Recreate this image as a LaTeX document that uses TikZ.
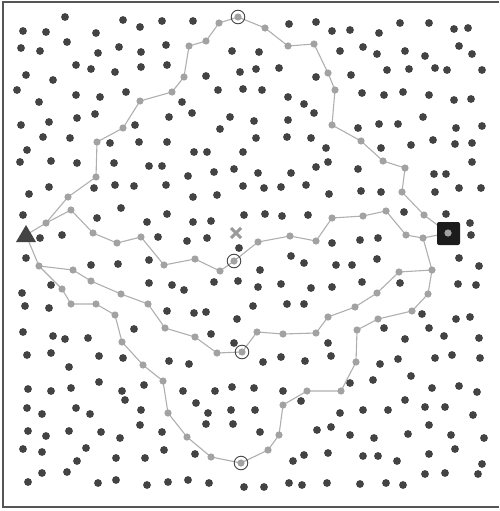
\documentclass[tikz,border=0pt]{standalone}
\definecolor{dotc}{HTML}{434343}
\definecolor{grc}{HTML}{A2A2A2}
\definecolor{edgec}{HTML}{AFAFAF}
\definecolor{framec}{HTML}{555555}
\definecolor{sqc}{HTML}{1C1C1C}
\definecolor{xc}{HTML}{9A9A9A}
\begin{document}
\begin{tikzpicture}[x=1pt,y=-1pt,
  edge/.style={draw=edgec,line width=1.1pt},
  gdot/.style={fill=grc},
  ddot/.style={fill=dotc},
  ring/.style={draw=dotc,line width=0.9pt}]
\useasboundingbox (0,0) rectangle (499,511);
\draw[framec,line width=1.4pt] (499,2) -- (3,2) -- (3,507) -- (499,507);
% key nodes
\coordinate (T) at (26,235);
\coordinate (S) at (448,233);
\coordinate (a1) at (46,223);
% top path
\coordinate (t1) at (68,197); \coordinate (t2) at (96,177); \coordinate (t3) at (97,142);
\coordinate (t4) at (123,128); \coordinate (t5) at (140,101); \coordinate (t6) at (172,92);
\coordinate (t7) at (184,77); \coordinate (t8) at (189,46); \coordinate (t9) at (206,41);
\coordinate (t10) at (219,23); \coordinate (c1) at (238,17); \coordinate (t11) at (265,28);
\coordinate (t12) at (288,46); \coordinate (t13) at (314,44); \coordinate (t14) at (328,73);
\coordinate (t15) at (335,90); \coordinate (t16) at (332,125); \coordinate (t17) at (361,141);
\coordinate (t18) at (383,161); \coordinate (t19) at (405,168); \coordinate (t20) at (402,192);
\coordinate (t21) at (424,215);
% middle path
\coordinate (m1) at (71,210); \coordinate (m2) at (93,233); \coordinate (m3) at (117,243);
\coordinate (m4) at (141,237); \coordinate (m5) at (164,265); \coordinate (m6) at (195,259);
\coordinate (m7) at (220,271); \coordinate (c2) at (234,261); \coordinate (m8) at (258,242);
\coordinate (m9) at (290,236); \coordinate (m10) at (316,241); \coordinate (m11) at (332,218);
\coordinate (m12) at (363,216); \coordinate (m13) at (386,211); \coordinate (m14) at (406,235);
\coordinate (j1) at (423,238);
% lower paths
\coordinate (b0) at (39,266);
\coordinate (l1) at (73,270); \coordinate (l2) at (91,281); \coordinate (l3) at (121,294);
\coordinate (l4) at (148,304); \coordinate (l5) at (165,328); \coordinate (l6) at (195,337);
\coordinate (l7) at (217,353); \coordinate (c3) at (242,352); \coordinate (l8) at (257,332);
\coordinate (l9) at (283,334); \coordinate (l10) at (316,333); \coordinate (l11) at (328,317);
\coordinate (l12) at (355,307); \coordinate (l13) at (377,293); \coordinate (l14) at (399,272);
\coordinate (j2) at (432,270);
\coordinate (q1) at (62,289); \coordinate (q2) at (71,304); \coordinate (q3) at (96,304);
\coordinate (q4) at (115,315); \coordinate (q5) at (122,342); \coordinate (q6) at (143,365);
\coordinate (q7) at (163,381); \coordinate (q8) at (168,413); \coordinate (q9) at (187,437);
\coordinate (q10) at (211,457); \coordinate (c4) at (241,463); \coordinate (q11) at (268,450);
\coordinate (q12) at (279,435); \coordinate (q13) at (283,405); \coordinate (q14) at (307,391);
\coordinate (q15) at (341,391); \coordinate (q16) at (356,362); \coordinate (q17) at (357,330);
\coordinate (q18) at (378,319); \coordinate (q19) at (412,311); \coordinate (q20) at (428,294);
% dark scattered dots
\foreach \x/\y in {65/17,123/20,162/21,23/31,46/32,96/33,140/27,67/42,21/48,40/51,98/53,119/47,141/52,166/45,
76/65,91/69,115/72,141/67,167/65,26/75,53/80,17/90,76/95,100/97,126/92,39/102,77/118,95/114,21/125,49/122,
135/125,169/117,43/137,70/138,110/143,139/142,167/142,27/150,20/162,51/161,77/163,114/163,149/166,162/166,
193/21,289/24,316/22,332/31,232/51,259/52,240/72,256/69,279/68,206/76,316/77,218/90,243/89,262/90,288/97,
182/102,304/104,192/113,230/117,254/121,288/120,314/113,220/129,256/138,287/137,311/138,326/148,194/152,
207/152,243/152,316/167,328/162,
350/30,379/33,400/23,429/23,454/29,468/28,340/51,363/47,377/54,405/51,425/56,459/46,472/54,351/75,387/70,
409/69,435/68,447/70,482/70,362/93,384/95,403/92,429/95,454/100,471/99,423/117,358/128,379/124,398/124,
456/128,482/126,381/148,411/145,433/140,455/144,472/143,358/169,472/162,
49/187,29/194,94/188,115/185,134/186,166/185,23/215,121/208,97/218,147/222,167/214,40/238,62/235,158/237,
26/258,91/265,118/264,149/260,51/285,149/283,22/293,25/306,49/308,167/311,23/332,53/336,65/339,88/338,134/329,
188/176,214/172,234/169,258/173,291/173,243/186,264/188,281/187,306/185,329/194,193/197,217/195,244/215,
265/214,282/216,308/215,193/222,211/221,187/241,207/238,239/248,332/243,291/256,304/263,260/270,172/285,
184/290,214/282,238/281,258/287,281/284,311/288,332/287,194/313,206/312,237/319,253/306,287/304,304/304,
211/334,234/343,328/343,
434/174,446/174,361/191,381/192,435/192,459/188,481/188,404/212,446/214,470/223,360/240,378/238,471/235,
336/265,352/265,377/259,459/258,479/266,362/282,400/283,458/284,476/285,422/314,456/319,470/317,384/328,
429/328,444/336,405/339,479/338,
27/355,51/353,99/356,123/358,69/367,169/361,28/389,51/391,71/388,99/382,122/391,125/400,144/385,27/408,
42/414,76/408,90/414,141/410,28/431,46/436,69/431,101/432,120/438,140/425,162/432,23/449,42/452,86/448,
77/461,116/458,145/458,164/450,42/473,67/472,28/482,98/483,116/480,147/485,168/482,
189/364,263/362,281/357,305/361,331/356,183/391,215/391,232/387,254/388,283/391,301/401,196/403,208/413,
231/410,255/410,206/424,233/424,260/432,317/430,331/427,195/454,293/461,304/455,328/453,188/480,209/483,
244/487,264/487,289/483,302/485,327/483,
380/364,398/359,435/358,452/355,480/358,350/383,373/380,411/376,432/388,459/386,477/392,405/400,340/413,
363/410,388/410,425/407,445/407,473/415,350/435,374/438,408/434,429/425,451/435,484/438,455/449,363/456,
378/456,397/461,429/454,482/464,360/484,386/483,403/485,425/474,445/473,478/474}
  \fill[ddot] (\x,\y) circle (3.9pt);
% connectors
\draw[edge] (T) -- (a1) -- (t1) -- (t2) -- (t3) -- (t4) -- (t5) -- (t6) -- (t7) -- (t8) -- (t9) -- (t10)
  -- (c1) -- (t11) -- (t12) -- (t13) -- (t14) -- (t15) -- (t16) -- (t17) -- (t18) -- (t19) -- (t20) -- (t21) -- (S);
\draw[edge] (a1) -- (m1) -- (m2) -- (m3) -- (m4) -- (m5) -- (m6) -- (m7) -- (c2) -- (m8) -- (m9) -- (m10)
  -- (m11) -- (m12) -- (m13) -- (m14) -- (j1) -- (S);
\draw[edge] (T) -- (b0) -- (l1) -- (l2) -- (l3) -- (l4) -- (l5) -- (l6) -- (l7) -- (c3) -- (l8) -- (l9)
  -- (l10) -- (l11) -- (l12) -- (l13) -- (l14) -- (j2) -- (j1);
\draw[edge] (b0) -- (q1) -- (q2) -- (q3) -- (q4) -- (q5) -- (q6) -- (q7) -- (q8) -- (q9) -- (q10) -- (c4)
  -- (q11) -- (q12) -- (q13) -- (q14) -- (q15) -- (q16) -- (q17) -- (q18) -- (q19) -- (q20) -- (j2);
% gray path dots
\foreach \n in {a1,t1,t2,t3,t4,t5,t6,t7,t8,t9,t10,c1,t11,t12,t13,t14,t15,t16,t17,t18,t19,t20,t21,
  m1,m2,m3,m4,m5,m6,m7,c2,m8,m9,m10,m11,m12,m13,m14,j1,
  b0,l1,l2,l3,l4,l5,l6,l7,c3,l8,l9,l10,l11,l12,l13,l14,j2,
  q1,q2,q3,q4,q5,q6,q7,q8,q9,q10,c4,q11,q12,q13,q14,q15,q16,q17,q18,q19,q20}
  \fill[gdot] (\n) circle (3.6pt);
% waypoint rings
\foreach \n in {c1,c2,c3,c4} \draw[ring] (\n) circle (6.8pt);
% start triangle
\fill[dotc] (16,242) -- (26,225) -- (36,242) -- cycle;
% goal square
\fill[sqc,rounded corners=2pt] (437,222) rectangle (460,245);
\fill[gdot] (S) circle (3.6pt);
% cross marker
\draw[xc,line width=3pt] (231,228) -- (241,238) (231,238) -- (241,228);
\end{tikzpicture}
\end{document}
